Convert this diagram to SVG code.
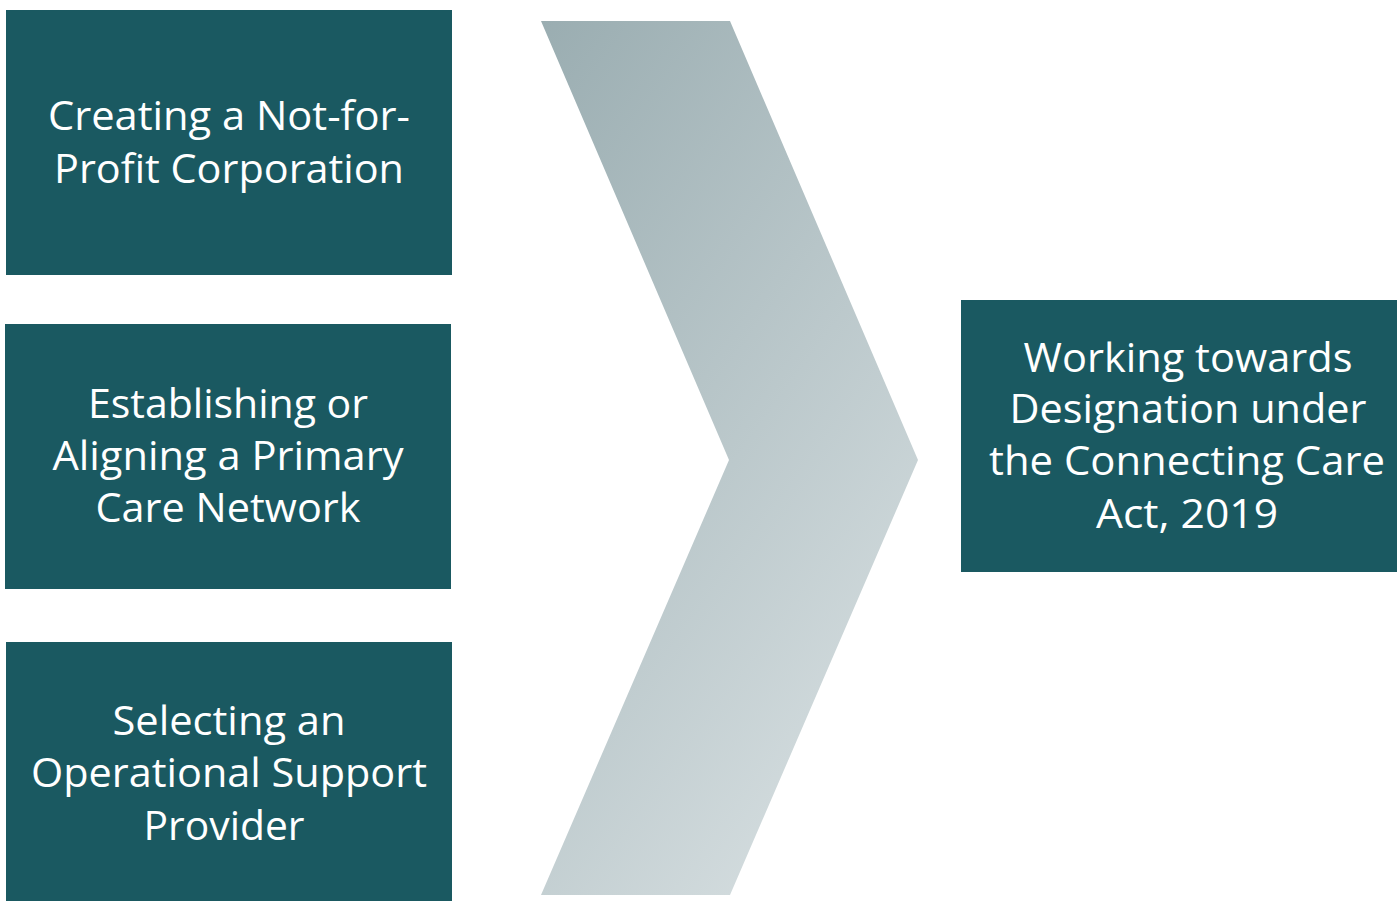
<svg xmlns="http://www.w3.org/2000/svg" width="1397" height="901" viewBox="0 0 1397 901">
<style>
.box{fill:#1A5961;}
.t{fill:#FFFFFF;font-family:"Open Sans","Noto Sans","Liberation Sans",sans-serif;font-size:40px;text-anchor:middle;}
</style>
<defs>
<linearGradient id="chev" x1="541" y1="21" x2="1153" y2="471" gradientUnits="userSpaceOnUse">
<stop offset="0" stop-color="#9AADB1"/>
<stop offset="1" stop-color="#D8E0E2"/>
</linearGradient>
</defs>
<rect width="1397" height="901" fill="#FFFFFF"/>
<g id="connectors">
<polygon id="chevron" points="541,21 730,21 918,460 730,895 541,895 729,460" fill="url(#chev)"/>
</g>
<g id="node1">
<rect class="box" x="6" y="10" width="446" height="265"/>
<text class="t" x="229" y="130" textLength="362" lengthAdjust="spacingAndGlyphs">Creating a Not-for-</text>
<text class="t" x="229" y="183" textLength="350" lengthAdjust="spacingAndGlyphs">Profit Corporation</text>
</g>
<g id="node2">
<rect class="box" x="5" y="324" width="446" height="265"/>
<text class="t" x="228" y="418" textLength="280" lengthAdjust="spacingAndGlyphs">Establishing or</text>
<text class="t" x="228" y="470" textLength="351" lengthAdjust="spacingAndGlyphs">Aligning a Primary</text>
<text class="t" x="228" y="522" textLength="265" lengthAdjust="spacingAndGlyphs">Care Network</text>
</g>
<g id="node3">
<rect class="box" x="6" y="642" width="446" height="259"/>
<text class="t" x="229" y="735" textLength="233" lengthAdjust="spacingAndGlyphs">Selecting an</text>
<text class="t" x="229" y="787" textLength="396" lengthAdjust="spacingAndGlyphs">Operational Support</text>
<text class="t" x="224" y="840" textLength="161" lengthAdjust="spacingAndGlyphs">Provider</text>
</g>
<g id="node4">
<rect class="box" x="961" y="300" width="436" height="272"/>
<text class="t" x="1188" y="372" textLength="329" lengthAdjust="spacingAndGlyphs">Working towards</text>
<text class="t" x="1188" y="423" textLength="357" lengthAdjust="spacingAndGlyphs">Designation under</text>
<text class="t" x="1187" y="475" textLength="396" lengthAdjust="spacingAndGlyphs">the Connecting Care</text>
<text class="t" x="1187" y="528" textLength="182" lengthAdjust="spacingAndGlyphs">Act, 2019</text>
</g>
</svg>
